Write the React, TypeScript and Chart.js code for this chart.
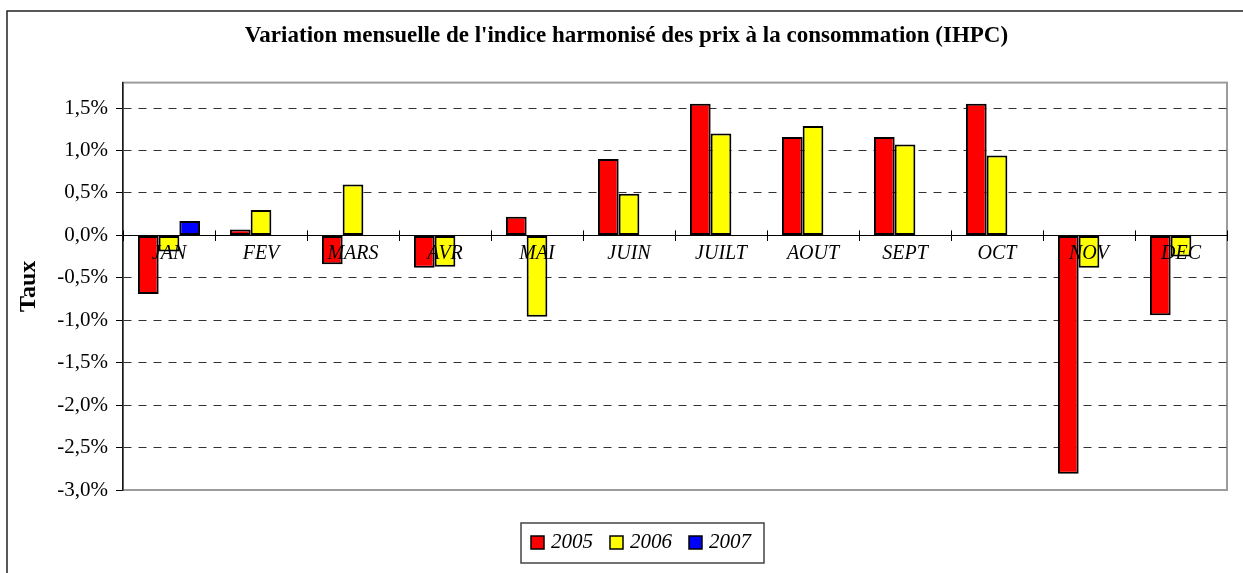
import React, { useEffect, useRef } from 'react';
import { Chart, registerables } from 'chart.js';

Chart.register(...registerables);

const TITLE = "Variation mensuelle de l'indice harmonisé des prix à la consommation (IHPC)";
const Y_TITLE = 'Taux';
const MONTHS = ['JAN', 'FEV', 'MARS', 'AVR', 'MAI', 'JUIN', 'JUILT', 'AOUT', 'SEPT', 'OCT', 'NOV', 'DEC'];
const SERIES_NAMES = ['2005', '2006', '2007'];
const SERIES_COLORS = ['#FF0000', '#FFFF00', '#0000FF'];
const V2005 = [-0.69, 0.07, -0.34, -0.38, 0.22, 0.9, 1.55, 1.16, 1.16, 1.55, -2.81, -0.94];
const V2006 = [-0.19, 0.3, 0.6, -0.37, -0.96, 0.49, 1.2, 1.29, 1.07, 0.94, -0.38, -0.25];
const V2007 = [0.17, null, null, null, null, null, null, null, null, null, null, null];
const Y_MIN = -3.0;
const Y_MAX = 1.8;
const Y_STEP = 0.5;

const SERIF = "'Liberation Serif', 'Times New Roman', serif";

const fmtPct = (v: number) => v.toFixed(1).replace('.', ',') + '%';

const framePlugin = {
  id: 'framePlugin',
  beforeDraw(chart: any) {
    const { ctx, chartArea } = chart;
    ctx.save();
    ctx.fillStyle = '#ffffff';
    ctx.fillRect(0, 0, chart.width, chart.height);
    // outer frame
    ctx.strokeStyle = '#222222';
    ctx.lineWidth = 1.5;
    ctx.strokeRect(7, 11, 1400, 800);
    // plot area frame
    ctx.strokeStyle = '#9c9c9c';
    ctx.lineWidth = 2;
    ctx.strokeRect(chartArea.left, chartArea.top, chartArea.right - chartArea.left, chartArea.bottom - chartArea.top);
    ctx.restore();
  },
  afterDraw(chart: any) {
    const { ctx } = chart;
    const xs = chart.scales.x;
    const ys = chart.scales.y;
    const y0 = ys.getPixelForValue(0);
    const half = (xs.getPixelForValue(1) - xs.getPixelForValue(0)) / 2;
    ctx.save();
    ctx.strokeStyle = '#000000';
    ctx.lineWidth = 1;
    ctx.beginPath();
    for (let i = 0; i <= MONTHS.length; i++) {
      const x = Math.round(xs.getPixelForValue(i) - half) + 0.5;
      ctx.moveTo(x, y0 - 5);
      ctx.lineTo(x, y0);
    }
    ctx.stroke();

    // legend
    ctx.font = `italic 21px ${SERIF}`;
    const sw = 13;
    const gapText = 7;
    const gapItems = 17;
    const padL = 10;
    const padR = 13;
    const items = chart.data.datasets.map((ds: any) => ({
      label: ds.label,
      color: ds.backgroundColor,
      w: sw + gapText + ctx.measureText(ds.label).width,
    }));
    const content = items.reduce((a: number, it: any) => a + it.w, 0) + gapItems * (items.length - 1);
    const boxW = content + padL + padR;
    const cx = 642.5;
    const boxLeft = Math.round(cx - boxW / 2);
    const boxTop = 523;
    const boxH = 40;
    ctx.strokeStyle = '#444444';
    ctx.lineWidth = 1.5;
    ctx.strokeRect(boxLeft, boxTop, boxW, boxH);
    let x = boxLeft + padL;
    ctx.textBaseline = 'alphabetic';
    ctx.textAlign = 'left';
    items.forEach((it: any) => {
      ctx.fillStyle = it.color;
      ctx.fillRect(x, 536, sw, sw);
      ctx.strokeStyle = '#000000';
      ctx.lineWidth = 1.5;
      ctx.strokeRect(x, 536, sw, sw);
      ctx.fillStyle = '#000000';
      ctx.fillText(it.label, x + sw + gapText, 548);
      x += it.w + gapItems;
    });
    ctx.restore();
  },
};

export default function App() {
  const ref = useRef<HTMLCanvasElement | null>(null);

  useEffect(() => {
    if (!ref.current) return;
    const values = [V2005, V2006, V2007];
    const chart = new Chart(ref.current, {
      type: 'bar',
      data: {
        labels: MONTHS,
        datasets: SERIES_NAMES.map((name, i) => ({
          label: name,
          data: values[i],
          backgroundColor: SERIES_COLORS[i],
          borderColor: '#000000',
          borderWidth: 2,
          borderSkipped: false,
          barPercentage: 1,
          categoryPercentage: 0.675,
        })),
      },
      options: {
        responsive: false,
        animation: false,
        events: [],
        layout: { padding: { left: 26, right: 16, top: 0, bottom: 83 } },
        plugins: {
          legend: { display: false },
          tooltip: { enabled: false },
          title: {
            display: true,
            text: TITLE,
            color: '#000000',
            font: { family: SERIF, size: 23, weight: 'bold' },
            padding: { top: 22, bottom: 33 },
          },
        },
        scales: {
          x: {
            type: 'category',
            position: { y: 0 } as any,
            offset: true,
            grid: {
              display: true,
              drawOnChartArea: false,
              drawTicks: true,
              tickLength: 5,
              tickColor: '#000000',
              offset: true,
              z: 1,
            },
            border: { display: true, color: '#000000', width: 1, z: 1 },
            ticks: {
              color: '#000000',
              font: { family: SERIF, size: 20, style: 'italic' },
              padding: 1,
              maxRotation: 0,
              autoSkip: false,
              z: 2,
            },
          },
          y: {
            type: 'linear',
            min: Y_MIN,
            max: Y_MAX,
            bounds: 'data',
            afterBuildTicks: (scale: any) => {
              scale.ticks = scale.ticks.filter(
                (t: any) => Math.abs(t.value / Y_STEP - Math.round(t.value / Y_STEP)) < 1e-6
              );
            },
            afterFit: (scale: any) => {
              scale.width = 97;
            },
            grid: {
              color: (ctx: any) => {
                const v = ctx.tick ? ctx.tick.value : null;
                if (v === null) return '#333333';
                if (Math.abs(v) < 1e-9 || Math.abs(v - Y_MIN) < 1e-9) return 'rgba(0,0,0,0)';
                return '#333333';
              },
              lineWidth: 1,
              drawTicks: true,
              tickLength: 7,
              tickColor: '#000000',
              tickBorderDash: [],
            },
            border: { display: true, color: '#1a1a1a', width: 1.5, dash: [8, 7] },
            ticks: {
              stepSize: Y_STEP,
              includeBounds: false,
              color: '#000000',
              font: { family: SERIF, size: 21 },
              padding: 8,
              callback: (v: any) => fmtPct(Number(v)),
            },
            title: {
              display: true,
              text: Y_TITLE,
              color: '#000000',
              font: { family: SERIF, size: 24, weight: 'bold' },
              padding: { top: -12, bottom: 0 },
            },
          },
        },
      },
      plugins: [framePlugin],
    });
    return () => chart.destroy();
  }, []);

  return (
    <div style={{ position: 'absolute', left: 0, top: 0, width: 1243, height: 573 }}>
      <canvas ref={ref} width={1243} height={573} style={{ display: 'block' }} />
    </div>
  );
}
